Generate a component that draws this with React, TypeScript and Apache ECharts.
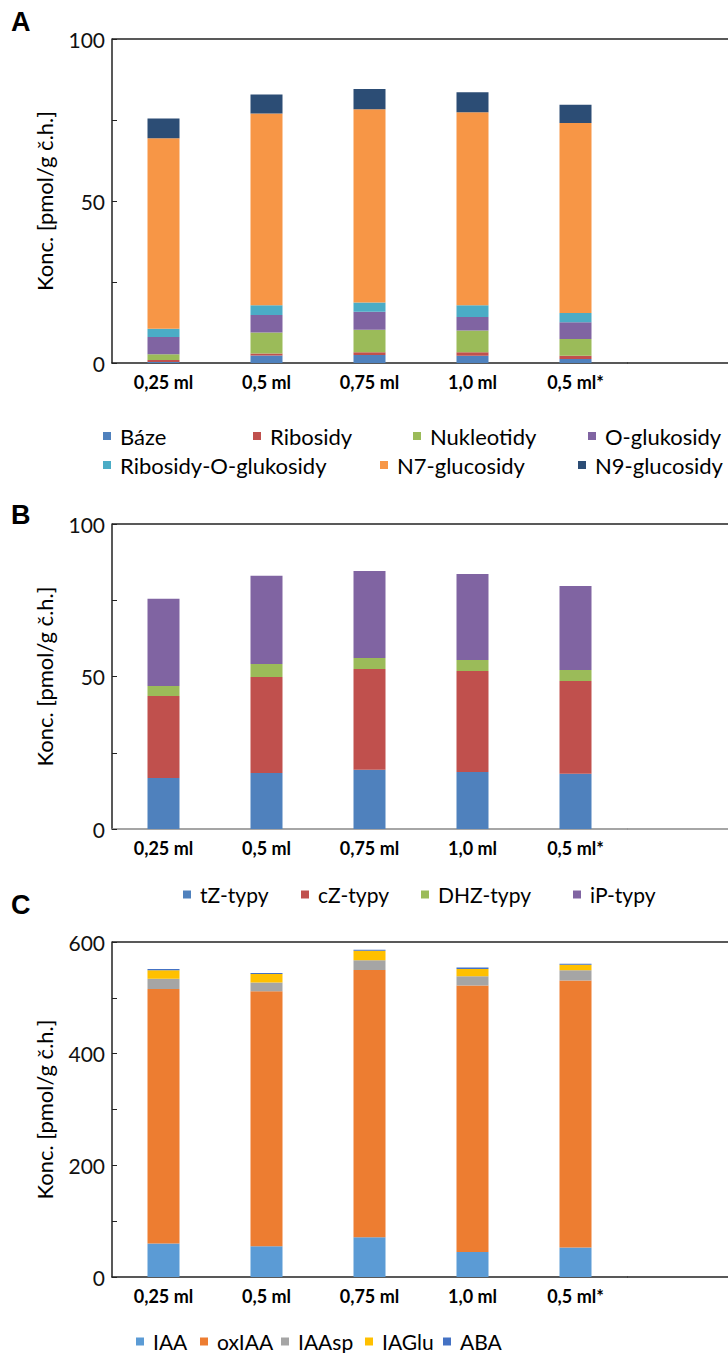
import React, { useEffect, useRef } from "react";
import * as echarts from "echarts";

const categories = ["0,25 ml", "0,5 ml", "0,75 ml", "1,0 ml", "0,5 ml*"];

// Panel A
const baze = [0.3, 2.3, 2.5, 2.2, 1.2];
const ribosidy = [0.6, 0.6, 0.8, 1.1, 1.0];
const nukleotidy = [1.8, 6.5, 7.0, 6.7, 5.2];
const oGlukosidy = [5.3, 5.4, 5.5, 4.2, 5.2];
const ribosidyOGlukosidy = [2.6, 3.0, 2.9, 3.6, 2.8];
const n7Glucosidy = [58.8, 59.2, 59.6, 59.6, 58.7];
const n9Glucosidy = [6.1, 5.9, 6.3, 6.2, 5.6];

// Panel B
const tZ = [16.7, 18.4, 19.4, 18.7, 18.1];
const cZ = [26.9, 31.4, 33.1, 33.1, 30.4];
const dhz = [3.3, 4.3, 3.6, 3.6, 3.6];
const iP = [28.6, 28.9, 28.5, 28.2, 27.6];

// Panel C
const iaa = [60, 55, 71, 45, 53];
const oxIaa = [456, 457, 479, 477, 478];
const iaaSp = [18, 15.6, 17.4, 16.8, 18.6];
const iaGlu = [15.5, 15, 16.8, 13, 9.6];
const aba = [2, 2, 2, 2.5, 2];

const yTicksA = [0, 50, 100];
const yTicksC = [0, 200, 400, 600];

const FONT = "Lato";
const GL = 112;
const GW = 515;
const panels = [
  { top: 39, height: 324, max: 100, interval: 25, labels: yTicksA, legendSize: 22 },
  { top: 524, height: 305, max: 100, interval: 25, labels: yTicksA, legendSize: 21 },
  { top: 942, height: 335, max: 600, interval: 100, labels: yTicksC, legendSize: 21 },
];

export default function App() {
  const ref = useRef<HTMLDivElement>(null);
  useEffect(() => {
    if (!ref.current) return;
    const chart = echarts.init(ref.current, undefined, { renderer: "svg" });

    const grids = panels.map((p) => ({ left: GL, top: p.top, width: GW, height: p.height, containLabel: false }));
    const xAxes = panels.map((p, i) => ({
      type: "category",
      gridIndex: i,
      data: categories,
      axisLine: { show: true, lineStyle: { color: i === 1 ? "#888" : "#222", width: 1.5 } },
      axisTick: { show: false },
      axisLabel: { color: "#000", fontFamily: FONT, fontSize: 18, fontWeight: "bold", margin: 10 },
    }));
    const yAxes = panels.map((p, i) => ({
      type: "value",
      gridIndex: i,
      min: 0,
      max: p.max,
      interval: p.interval,
      name: "Konc. [pmol/g č.h.]",
      nameLocation: "middle",
      nameGap: 57,
      nameRotate: 90,
      nameTextStyle: { color: "#000", fontFamily: FONT, fontSize: 22 },
      axisLine: { show: true, lineStyle: { color: "#222", width: 1.5 } },
      axisTick: { show: true, inside: true, length: 5, lineStyle: { color: "#222" } },
      splitLine: { show: false },
      axisLabel: {
        color: "#111",
        fontFamily: FONT,
        fontSize: 21,
        margin: 7,
        formatter: (v: number) => (p.labels.indexOf(v) >= 0 ? String(v) : ""),
      },
    }));

    const mk = (name: string, data: number[], color: string, idx: number) => ({
      name,
      type: "bar",
      stack: "s" + idx,
      xAxisIndex: idx,
      yAxisIndex: idx,
      data,
      barWidth: 32,
      itemStyle: { color },
    });

    const series = [
      mk("Báze", baze, "#4F81BD", 0),
      mk("Ribosidy", ribosidy, "#C0504D", 0),
      mk("Nukleotidy", nukleotidy, "#9BBB59", 0),
      mk("O-glukosidy", oGlukosidy, "#8064A2", 0),
      mk("Ribosidy-O-glukosidy", ribosidyOGlukosidy, "#4BACC6", 0),
      mk("N7-glucosidy", n7Glucosidy, "#F79646", 0),
      mk("N9-glucosidy", n9Glucosidy, "#2C4D75", 0),
      mk("tZ-typy", tZ, "#4F81BD", 1),
      mk("cZ-typy", cZ, "#C0504D", 1),
      mk("DHZ-typy", dhz, "#9BBB59", 1),
      mk("iP-typy", iP, "#8064A2", 1),
      mk("IAA", iaa, "#5B9BD5", 2),
      mk("oxIAA", oxIaa, "#ED7D31", 2),
      mk("IAAsp", iaaSp, "#A5A5A5", 2),
      mk("IAGlu", iaGlu, "#FFC000", 2),
      mk("ABA", aba, "#4472C4", 2),
    ];

    const legendItems: [string, number, number, number][] = [
      ["Báze", 103, 437, 0],
      ["Ribosidy", 253, 437, 0],
      ["Nukleotidy", 413, 437, 0],
      ["O-glukosidy", 588, 437, 0],
      ["Ribosidy-O-glukosidy", 103, 466, 0],
      ["N7-glucosidy", 380, 466, 0],
      ["N9-glucosidy", 578, 466, 0],
      ["tZ-typy", 183, 896, 1],
      ["cZ-typy", 301, 896, 1],
      ["DHZ-typy", 421, 896, 1],
      ["iP-typy", 573, 896, 1],
      ["IAA", 136, 1343, 2],
      ["oxIAA", 200, 1343, 2],
      ["IAAsp", 281, 1343, 2],
      ["IAGlu", 365, 1343, 2],
      ["ABA", 443, 1343, 2],
    ];
    const legend = legendItems.map(([name, x, y, pi]) => ({
      data: [name],
      left: x,
      top: y - 12,
      padding: 0,
      icon: "rect",
      itemWidth: 8,
      itemHeight: 8,
      selectedMode: false,
      textStyle: { color: "#000", fontFamily: FONT, fontSize: panels[pi].legendSize, padding: [0, 0, 0, 4] },
    }));

    const lines: any[] = [];
    panels.forEach((p, i) => {
      lines.push({
        type: "line",
        shape: { x1: GL, y1: p.top, x2: 728, y2: p.top },
        style: { stroke: "#222", lineWidth: 1.5 },
        silent: true,
      });
      lines.push({
        type: "line",
        shape: { x1: GL + GW, y1: p.top + p.height, x2: 728, y2: p.top + p.height },
        style: { stroke: i === 1 ? "#888" : "#222", lineWidth: 1.5 },
        silent: true,
      });
    });
    const letters = [
      ["A", 22],
      ["B", 515],
      ["C", 905],
    ].map(([t, y]) => ({
      type: "text",
      left: 11,
      top: (y as number) - 14,
      style: { text: t as string, fill: "#000", font: "bold 27px 'Liberation Sans', Arial, sans-serif" },
      silent: true,
    }));

    chart.setOption({
      animation: false,
      backgroundColor: "#fff",
      grid: grids,
      xAxis: xAxes,
      yAxis: yAxes,
      legend,
      series,
      graphic: [...lines, ...letters],
    });
    return () => chart.dispose();
  }, []);
  return (
    <div
      ref={ref}
      style={{ position: "absolute", left: 0, top: 0, width: 728, height: 1353 }}
    />
  );
}
